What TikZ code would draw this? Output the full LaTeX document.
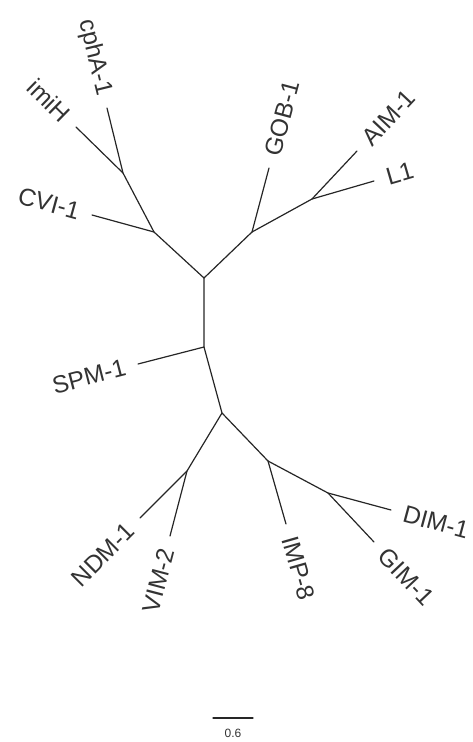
\documentclass[tikz,border=0pt]{standalone}
\usepackage{fontspec}
\setmainfont{Liberation Sans}
\begin{document}
\begin{tikzpicture}[x=1pt,y=1pt,
  branch/.style={draw=black!85,line width=1.2pt,line cap=round},
  leaflab/.style={font=\fontsize{24.5}{24.5}\selectfont,text=black!80,inner sep=13pt},
  scalelab/.style={font=\fontsize{12}{12}\selectfont,text=black!80,inner sep=0pt}]
\useasboundingbox (0,0) rectangle (473,-742);
% internal nodes
\coordinate (r)  at (204,-278);
\coordinate (nc) at (154,-232);
\coordinate (ni) at (123,-173);
\coordinate (ng) at (252,-232);
\coordinate (na) at (312,-199);
\coordinate (ns) at (204,-347);
\coordinate (nl) at (222,-413);
\coordinate (nv) at (187,-471);
\coordinate (np) at (268,-461);
\coordinate (nd) at (328,-493);
% leaves
\coordinate (lcph) at (107,-108);
\coordinate (limi) at (76,-127);
\coordinate (lcvi) at (92,-215);
\coordinate (lgob) at (269,-168);
\coordinate (laim) at (357,-151);
\coordinate (ll1)  at (374,-181);
\coordinate (lspm) at (138,-364);
\coordinate (lndm) at (140,-518);
\coordinate (lvim) at (170,-536);
\coordinate (limp) at (286,-524);
\coordinate (ldim) at (391,-510);
\coordinate (lgim) at (374,-542);
% branches
\draw[branch] (r) -- (nc) -- (ni) -- (lcph);
\draw[branch] (ni) -- (limi);
\draw[branch] (nc) -- (lcvi);
\draw[branch] (r) -- (ng) -- (lgob);
\draw[branch] (ng) -- (na) -- (laim);
\draw[branch] (na) -- (ll1);
\draw[branch] (r) -- (ns) -- (lspm);
\draw[branch] (ns) -- (nl) -- (nv) -- (lndm);
\draw[branch] (nv) -- (lvim);
\draw[branch] (nl) -- (np) -- (limp);
\draw[branch] (np) -- (nd) -- (ldim);
\draw[branch] (nd) -- (lgim);
% labels
\node[leaflab,anchor=east,rotate=-76.2] (tcph) at (lcph) {cphA-1};
\node[leaflab,anchor=east,rotate=-44.4] (timi) at (limi) {imiH};
\node[leaflab,anchor=east,rotate=-15.3] (tcvi) at (lcvi) {CVI-1};
\node[leaflab,anchor=west,rotate=75] (tgob) at (lgob) {GOB-1};
\node[leaflab,anchor=west,rotate=46.8] (taim) at (laim) {AIM-1};
\node[leaflab,anchor=west,rotate=16.2] (tl1) at (ll1) {L1};
\node[leaflab,anchor=east,rotate=14.4] (tspm) at (lspm) {SPM-1};
\node[leaflab,anchor=east,rotate=45] (tndm) at (lndm) {NDM-1};
\node[leaflab,anchor=east,rotate=75.3] (tvim) at (lvim) {VIM-2};
\node[leaflab,anchor=west,rotate=-74] (timp) at (limp) {IMP-8};
\node[leaflab,anchor=west,rotate=-15.1] (tdim) at (ldim) {DIM-1};
\node[leaflab,anchor=west,rotate=-46.8] (tgim) at (lgim) {GIM-1};
% scale bar
\coordinate (sa) at (213,-718);
\coordinate (sb) at (253,-718);
\draw[branch] (sa) -- (sb);
\node[scalelab] (st) at (233,-733) {0.6};
\end{tikzpicture}
\end{document}
